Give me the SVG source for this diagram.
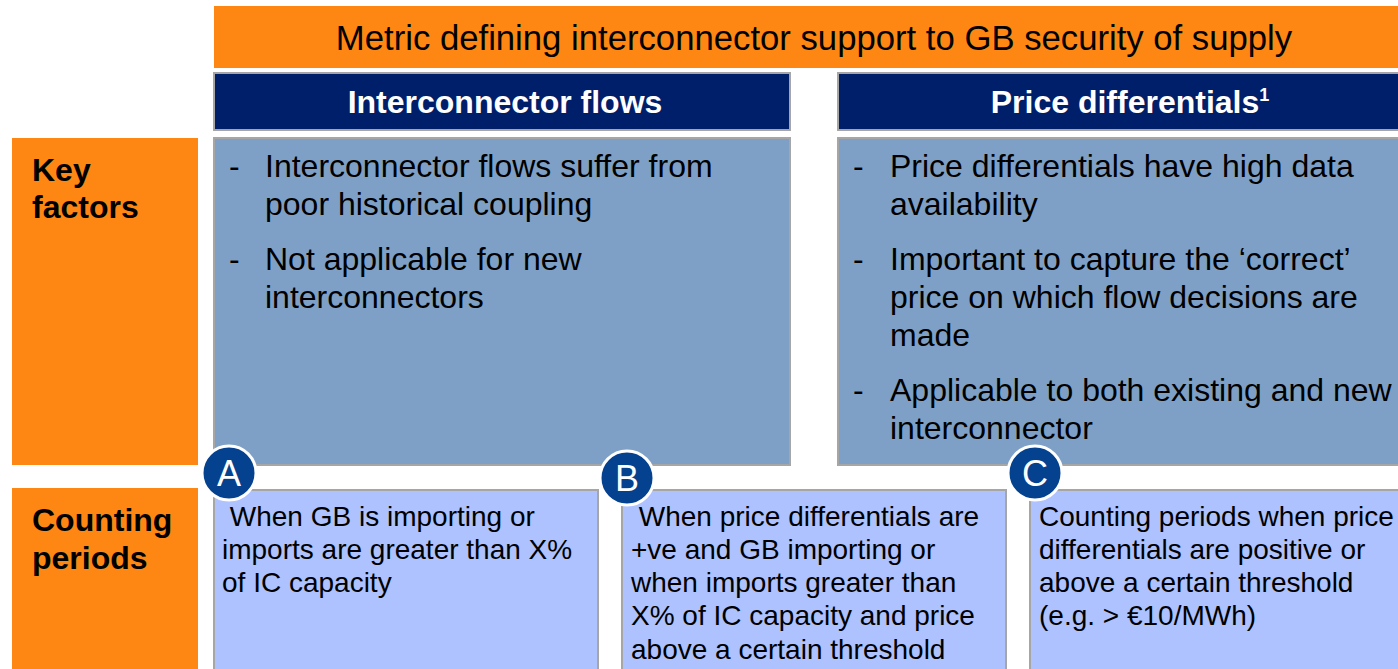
<svg xmlns="http://www.w3.org/2000/svg" width="1398" height="669" viewBox="0 0 1398 669">
<style>
.orange{fill:#FD8712;}
.hdr{fill:#001F6B;stroke:#A6A6A6;stroke-width:2;}
.kf{fill:#7FA0C6;stroke:#A6A6A6;stroke-width:2;}
.cp{fill:#ADC2FF;stroke:#A6A6A6;stroke-width:2;}
.circ{fill:#04418F;stroke:#FFFFFF;stroke-width:3;}
text{font-family:"Liberation Sans",Arial,sans-serif;}
.ban{font-size:34.7px;fill:#000;}
.ht{font-size:32px;font-weight:bold;fill:#fff;}
.side{font-size:32px;font-weight:bold;fill:#000;}
.body{font-size:32px;fill:#000;}
.small{font-size:28px;fill:#000;}
.let{font-size:36px;fill:#fff;}
</style>
<rect width="1398" height="669" fill="#fff"/>
<g id="banner">
<rect class="orange" x="214" y="6" width="1184" height="62"/>
<text class="ban" x="814" y="50" text-anchor="middle">Metric defining interconnector support to GB security of supply</text>
</g>
<g id="header-flows">
<rect class="hdr" x="214" y="73" width="576" height="57"/>
<text class="ht" x="505" y="113" text-anchor="middle">Interconnector flows</text>
</g>
<g id="header-price">
<rect class="hdr" x="838" y="73" width="570" height="57"/>
<text class="ht" x="1130" y="113" text-anchor="middle">Price differentials<tspan font-size="18" dy="-12">1</tspan></text>
</g>
<g id="label-key">
<rect class="orange" x="12" y="138" width="186" height="327"/>
<text class="side" x="32" y="181">Key</text>
<text class="side" x="32" y="218">factors</text>
</g>
<g id="kf-flows">
<rect class="kf" x="214" y="138" width="576" height="327"/>
<text class="body" x="229" y="177">-</text>
<text class="body" x="265" y="177">Interconnector flows suffer from</text>
<text class="body" x="265" y="215">poor historical coupling</text>
<text class="body" x="229" y="270">-</text>
<text class="body" x="265" y="270">Not applicable for new</text>
<text class="body" x="265" y="308">interconnectors</text>
</g>
<g id="kf-price">
<rect class="kf" x="838" y="138" width="570" height="327"/>
<text class="body" x="853" y="177">-</text>
<text class="body" x="890" y="177">Price differentials have high data</text>
<text class="body" x="890" y="215">availability</text>
<text class="body" x="853" y="270">-</text>
<text class="body" x="890" y="270">Important to capture the ‘correct’</text>
<text class="body" x="890" y="308">price on which flow decisions are</text>
<text class="body" x="890" y="346">made</text>
<text class="body" x="853" y="401">-</text>
<text class="body" x="890" y="401">Applicable to both existing and new</text>
<text class="body" x="890" y="439">interconnector</text>
</g>
<g id="label-counting">
<rect class="orange" x="12" y="488" width="186" height="190"/>
<text class="side" x="32" y="531">Counting</text>
<text class="side" x="32" y="569">periods</text>
</g>
<g id="cp-a">
<rect class="cp" x="214" y="490" width="384" height="190"/>
<text class="small" x="222" y="526" xml:space="preserve"> When GB is importing or</text>
<text class="small" x="222" y="559">imports are greater than X%</text>
<text class="small" x="222" y="592">of IC capacity</text>
<circle class="circ" cx="229" cy="473" r="27"/>
<text class="let" x="229" y="486" text-anchor="middle">A</text>
</g>
<g id="cp-b">
<rect class="cp" x="622" y="490" width="384" height="190"/>
<text class="small" x="631" y="526" xml:space="preserve"> When price differentials are</text>
<text class="small" x="631" y="559">+ve and GB importing or</text>
<text class="small" x="631" y="592">when imports greater than</text>
<text class="small" x="631" y="625">X% of IC capacity and price</text>
<text class="small" x="631" y="659">above a certain threshold</text>
<circle class="circ" cx="627" cy="478" r="27"/>
<text class="let" x="627" y="491" text-anchor="middle">B</text>
</g>
<g id="cp-c">
<rect class="cp" x="1030" y="490" width="378" height="190"/>
<text class="small" x="1039" y="526">Counting periods when price</text>
<text class="small" x="1039" y="559">differentials are positive or</text>
<text class="small" x="1039" y="592">above a certain threshold</text>
<text class="small" x="1039" y="625">(e.g. &gt; €10/MWh)</text>
<circle class="circ" cx="1035" cy="473" r="27"/>
<text class="let" x="1035" y="486" text-anchor="middle">C</text>
</g>
<g id="connectors"></g>
</svg>
